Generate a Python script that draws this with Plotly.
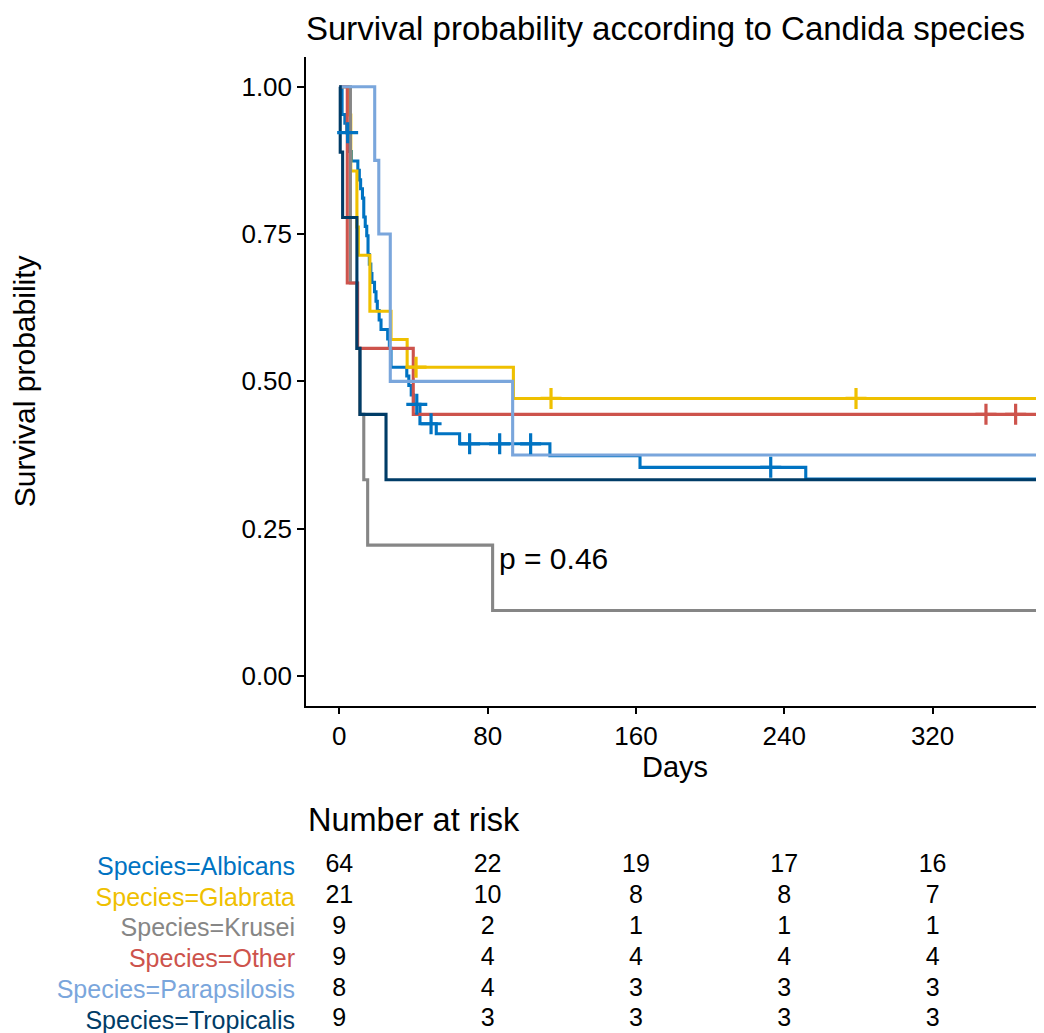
import plotly.graph_objects as go

# Kaplan-Meier curves (days, survival probability)
species = ["Albicans", "Glabrata", "Krusei", "Other", "Parapsilosis", "Tropicalis"]
colors = ["#0073C2", "#EFC000", "#868686", "#CD534C", "#7AA6DC", "#003C67"]

END_DAY = 385  # curves run past the right edge

albicans_t = [0, 1.5, 3, 4, 5, 6.5, 10, 10.8, 11.5, 12.5, 13.2, 14, 14.8, 15.5, 16.2,
              17, 17.6, 19, 19.8, 20.5, 21.5, 22.5, 26.1, 27, 27.9, 36.4, 37.5, 38.8,
              40, 43.5, 52.3, 64.9, 113.6, 162.2, 251.6, END_DAY]
albicans_s = [1, 0.953, 0.938, 0.922, 0.890, 0.874, 0.858, 0.842, 0.827, 0.811, 0.779,
              0.763, 0.747, 0.715, 0.699, 0.683, 0.668, 0.652, 0.636, 0.620, 0.604,
              0.588, 0.572, 0.556, 0.524, 0.509, 0.493, 0.477, 0.461, 0.428, 0.411,
              0.394, 0.374, 0.354, 0.334, 0.334]
albicans_cens_t = [4.5, 41.8, 49.5, 70.3, 86.5, 103.2, 232.7]
albicans_cens_s = [0.922, 0.461, 0.428, 0.394, 0.394, 0.394, 0.354]

glabrata_t = [0, 5, 6.2, 9.5, 10.3, 16.5, 27.9, 36.6, 93.9, END_DAY]
glabrata_s = [1, 0.952, 0.857, 0.762, 0.714, 0.619, 0.571, 0.524, 0.471, 0.471]
glabrata_cens_t = [41.4, 114.2, 278.7]
glabrata_cens_s = [0.524, 0.471, 0.471]

krusei_t = [0, 6, 9.5, 11, 13.2, 15.3, 82.7, END_DAY]
krusei_s = [1, 0.667, 0.556, 0.444, 0.333, 0.222, 0.111, 0.111]
krusei_cens_t = []
krusei_cens_s = []

other_t = [0, 4.3, 9.9, 39.9, END_DAY]
other_s = [1, 0.667, 0.556, 0.444, 0.444]
other_cens_t = [348.8, 364.8]
other_cens_s = [0.444, 0.444]

parap_t = [0, 19.1, 21.3, 27.5, 93.5, END_DAY]
parap_s = [1, 0.875, 0.75, 0.5, 0.375, 0.375]
parap_cens_t = []
parap_cens_s = []

tropic_t = [0, 0.5, 1.8, 9.5, 11.2, 25.2, END_DAY]
tropic_s = [1, 0.889, 0.778, 0.556, 0.444, 0.333, 0.333]
tropic_cens_t = []
tropic_cens_s = []

curves_t = [albicans_t, glabrata_t, krusei_t, other_t, parap_t, tropic_t]
curves_s = [albicans_s, glabrata_s, krusei_s, other_s, parap_s, tropic_s]
cens_t = [albicans_cens_t, glabrata_cens_t, krusei_cens_t, other_cens_t, parap_cens_t, tropic_cens_t]
cens_s = [albicans_cens_s, glabrata_cens_s, krusei_cens_s, other_cens_s, parap_cens_s, tropic_cens_s]

# number at risk table
risk_days = [0, 80, 160, 240, 320]
risk_albicans = [64, 22, 19, 17, 16]
risk_glabrata = [21, 10, 8, 8, 7]
risk_krusei = [9, 2, 1, 1, 1]
risk_other = [9, 4, 4, 4, 4]
risk_parap = [8, 4, 3, 3, 3]
risk_tropic = [9, 3, 3, 3, 3]
risk_rows = [risk_albicans, risk_glabrata, risk_krusei, risk_other, risk_parap, risk_tropic]

p_text = "p = 0.46"

FONT = "Liberation Sans, Arial, sans-serif"
# page body has an 8px margin, so the figure is a bit smaller than the window
OFF = 8
W, H = 1044 - OFF, 1033 - OFF

fig = go.Figure()

"""
Survival step curves
"""
for name, col, t, s in zip(species, colors, curves_t, curves_s):
    fig.add_trace(go.Scatter(x=t, y=s, mode="lines", line=dict(color=col, width=3.1, shape="hv"),
                             name="Species=" + name, showlegend=False, xaxis="x", yaxis="y"))

"""
Censor marks
"""
for col, t, s in zip(colors, cens_t, cens_s):
    if len(t) == 0:
        continue
    fig.add_trace(go.Scatter(x=t, y=s, mode="markers", showlegend=False,
                             marker=dict(symbol="cross-thin", size=15, line=dict(color=col, width=3.2)),
                             xaxis="x", yaxis="y"))

"""
Risk table
"""
for i, row in enumerate(risk_rows):
    fig.add_trace(go.Scatter(x=risk_days, y=[i + 1] * len(risk_days), mode="text",
                             text=[str(v) for v in row], textposition="middle center",
                             textfont=dict(family=FONT, size=25, color="black"),
                             showlegend=False, cliponaxis=False, xaxis="x2", yaxis="y2"))

risk_labels = ['<span style="color:%s">Species=%s</span>' % (c, n) for n, c in zip(species, colors)]

x_range = [-17.96, 380.1]

fig.update_layout(
    width=W,
    height=H,
    autosize=False,
    margin=dict(l=306 - OFF, r=0, t=0, b=0),
    paper_bgcolor="white",
    plot_bgcolor="white",
    font=dict(family=FONT, size=26, color="black"),
    title=dict(text="Survival probability according to Candida species", x=0, xref="paper",
               xanchor="left", y=1 - (28 - OFF) / H, yref="container", yanchor="middle",
               font=dict(family=FONT, size=33, color="black")),
    xaxis=dict(domain=[0, 1], range=x_range, anchor="y", tickvals=risk_days,
               showline=True, linecolor="black", linewidth=1.5, mirror=False,
               ticks="outside", ticklen=6, tickwidth=1.5, tickcolor="black",
               showgrid=False, zeroline=False,
               tickfont=dict(family=FONT, size=26, color="black"),
               title=dict(text="Days", standoff=6, font=dict(family=FONT, size=29, color="black"))),
    yaxis=dict(domain=[1 - (706 - OFF) / H, 1 - (56.7 - OFF) / H], range=[-0.051, 1.051],
               tickvals=[0, 0.25, 0.5, 0.75, 1.0], ticktext=["0.00", "0.25", "0.50", "0.75", "1.00"],
               showline=True, linecolor="black", linewidth=1.5,
               ticks="outside", ticklen=7, tickwidth=1.5, tickcolor="black",
               showgrid=False, zeroline=False,
               tickfont=dict(family=FONT, size=26, color="black"),
               title=dict(text="Survival probability", standoff=200,
                          font=dict(family=FONT, size=30, color="black"))),
    xaxis2=dict(domain=[0, 1], range=x_range, anchor="y2", visible=False),
    yaxis2=dict(domain=[0, 1 - (850 - OFF) / H], range=[6.42, 0.48], anchor="x2",
                tickvals=[1, 2, 3, 4, 5, 6], ticktext=risk_labels, ticks="",
                showline=False, showgrid=False, zeroline=False, ticklabelstandoff=10,
                ticklabeloverflow="allow",
                tickfont=dict(family=FONT, size=25)),
    annotations=[
        dict(text=p_text, x=85, y=0.2, xref="x", yref="y", xanchor="left", yanchor="middle",
             showarrow=False, font=dict(family=FONT, size=30, color="black")),
        dict(text="Number at risk", x=0, y=1 - (820 - OFF) / H, xref="paper", yref="paper",
             xanchor="left", yanchor="middle", showarrow=False,
             font=dict(family=FONT, size=32.5, color="black")),
    ],
)

fig.write_html("out.html")
